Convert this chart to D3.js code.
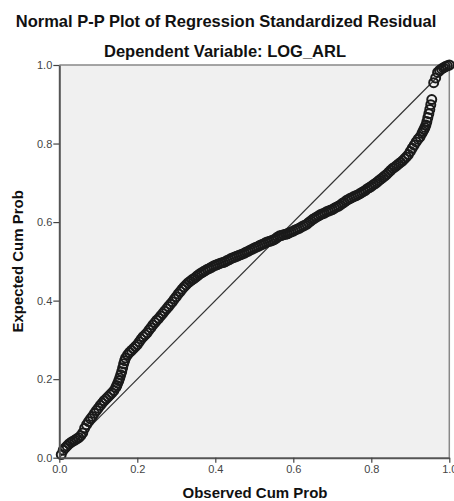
<!DOCTYPE html>
<html><head><meta charset="utf-8">
<script src="https://cdn.jsdelivr.net/npm/d3@7"></script>
<style>body{margin:0;background:#fff}svg{display:block}text{font-family:Arial,"Liberation Sans",sans-serif}</style>
</head><body><svg id="c" width="454" height="501"></svg>
<script>
const title = "Normal P-P Plot of Regression Standardized Residual";
const subtitle = "Dependent Variable: LOG_ARL";
const xLabel = "Observed Cum Prob";
const yLabel = "Expected Cum Prob";
const ticks = [0, 0.2, 0.4, 0.6, 0.8, 1.0];
const observed = [0.005,0.010,0.015,0.020,0.025,0.030,0.035,0.040,0.045,0.050,0.055,0.060,0.065,0.070,0.075,0.080,0.085,0.090,0.095,0.100,
0.105,0.110,0.115,0.120,0.125,0.130,0.135,0.140,0.145,0.1475,0.150,0.1525,0.155,0.1575,0.160,0.1625,0.165,0.1675,0.170,0.175,0.180,0.185,0.190,0.195,0.200,
0.205,0.210,0.215,0.220,0.225,0.230,0.235,0.240,0.245,0.250,0.255,0.260,0.265,0.270,0.275,0.280,0.285,0.290,0.295,0.300,
0.305,0.310,0.315,0.320,0.325,0.330,0.335,0.340,0.345,0.350,0.355,0.360,0.365,0.370,0.375,0.380,0.385,0.390,0.395,0.400,
0.405,0.410,0.415,0.420,0.425,0.430,0.435,0.440,0.445,0.450,0.455,0.460,0.465,0.470,0.475,0.480,0.485,0.490,0.495,0.500,
0.505,0.510,0.515,0.520,0.525,0.530,0.535,0.540,0.545,0.550,0.555,0.560,0.565,0.570,0.575,0.580,0.585,0.590,0.595,0.600,
0.605,0.610,0.615,0.620,0.625,0.630,0.635,0.640,0.645,0.650,0.655,0.660,0.665,0.670,0.675,0.680,0.685,0.690,0.695,0.700,
0.705,0.710,0.715,0.720,0.725,0.730,0.735,0.740,0.745,0.750,0.755,0.760,0.765,0.770,0.775,0.780,0.785,0.790,0.795,0.800,
0.805,0.810,0.815,0.820,0.825,0.830,0.835,0.840,0.845,0.850,0.855,0.860,0.865,0.870,0.875,0.880,0.885,0.890,0.895,0.900,
0.905,0.910,0.915,0.920,0.925,0.930,0.9325,0.935,0.9375,0.940,0.9425,0.945,0.9475,0.950,0.9525,0.955,0.960,0.965,0.970,0.975,0.980,0.985,0.990,0.995,1.000];
const expected = [0.008,0.019,0.025,0.030,0.035,0.039,0.042,0.045,0.048,0.051,0.056,0.063,0.075,0.084,0.092,0.099,0.105,0.113,0.120,0.126,
0.133,0.139,0.145,0.150,0.155,0.160,0.165,0.171,0.179,0.184,0.190,0.196,0.203,0.211,0.219,0.229,0.239,0.247,0.254,0.262,0.268,0.273,0.278,0.283,0.288,
0.295,0.302,0.308,0.313,0.318,0.325,0.331,0.338,0.344,0.350,0.355,0.361,0.367,0.373,0.379,0.385,0.391,0.397,0.404,0.410,
0.417,0.423,0.429,0.435,0.440,0.445,0.449,0.453,0.456,0.460,0.464,0.468,0.471,0.474,0.477,0.480,0.482,0.485,0.488,0.490,
0.492,0.494,0.496,0.497,0.499,0.502,0.504,0.507,0.509,0.511,0.513,0.515,0.517,0.519,0.521,0.524,0.526,0.529,0.531,0.534,
0.536,0.538,0.541,0.543,0.545,0.548,0.550,0.551,0.553,0.555,0.558,0.562,0.565,0.566,0.568,0.569,0.570,0.573,0.575,0.577,
0.580,0.582,0.584,0.587,0.590,0.592,0.595,0.599,0.603,0.607,0.610,0.613,0.616,0.619,0.621,0.623,0.626,0.628,0.630,0.632,
0.635,0.638,0.640,0.643,0.647,0.650,0.654,0.657,0.660,0.662,0.665,0.667,0.669,0.672,0.675,0.678,0.681,0.685,0.688,0.691,
0.695,0.698,0.702,0.706,0.710,0.714,0.718,0.722,0.727,0.732,0.737,0.740,0.744,0.748,0.752,0.756,0.761,0.766,0.772,0.780,
0.788,0.796,0.804,0.811,0.817,0.826,0.831,0.836,0.841,0.847,0.856,0.866,0.876,0.887,0.899,0.912,0.955,0.967,0.981,0.986,0.990,0.993,0.996,0.998,1.000];

const svg = d3.select("#c");
const m = {l:59.3, r:449.3, t:65, b:457.7};
const x = d3.scaleLinear().domain([0,1]).range([m.l, m.r]);
const y = d3.scaleLinear().domain([0,1]).range([m.b, m.t]);

svg.append("rect").attr("x",m.l).attr("y",m.t).attr("width",m.r-m.l).attr("height",m.b-m.t).attr("fill","#f0f0f0");
svg.append("path").attr("d",`M${m.l},${m.t}H${m.r}V${m.b}`).attr("fill","none").attr("stroke","#888").attr("stroke-width",1.5);

const plot = svg.append("g");
plot.append("line").attr("x1",x(0)).attr("y1",y(0)).attr("x2",x(1)).attr("y2",y(1)).attr("stroke","#333").attr("stroke-width",1.2);
plot.selectAll("circle").data(observed.map((v,i)=>[v,expected[i]])).join("circle")
  .attr("cx",d=>x(d[0])).attr("cy",d=>y(d[1])).attr("r",4.5)
  .attr("fill","none").attr("stroke","#1a1a1a").attr("stroke-width",2);

const xa = svg.append("g").attr("transform",`translate(0,${m.b})`)
  .call(d3.axisBottom(x).tickValues(ticks).tickFormat(d3.format(".1f")).tickSize(5).tickSizeOuter(0));
const ya = svg.append("g").attr("transform",`translate(${m.l},0)`)
  .call(d3.axisLeft(y).tickValues(ticks).tickFormat(d3.format(".1f")).tickSize(6).tickSizeOuter(0));
[xa,ya].forEach(a=>{
  a.select(".domain").attr("stroke","#555").attr("stroke-width",2);
  a.selectAll(".tick line").attr("stroke","#444").attr("stroke-width",1.2);
  a.selectAll(".tick text").attr("fill","#444").attr("font-size",11).attr("font-family","Arial, 'Liberation Sans', sans-serif");
});
xa.selectAll(".tick text").attr("dy","0.71em").attr("y",8);
ya.selectAll(".tick text").attr("x",-7);

svg.append("text").attr("x",226).attr("y",27).attr("text-anchor","middle").attr("font-size",16.5).attr("font-weight","bold").attr("fill","#111").text(title);
svg.append("text").attr("x",225).attr("y",57).attr("text-anchor","middle").attr("font-size",16.5).attr("font-weight","bold").attr("fill","#111").text(subtitle);
svg.append("text").attr("x",255).attr("y",498).attr("text-anchor","middle").attr("font-size",15).attr("font-weight","bold").attr("fill","#111").text(xLabel);
svg.append("text").attr("transform",`translate(23,${(m.t+m.b)/2}) rotate(-90)`).attr("text-anchor","middle").attr("font-size",15).attr("font-weight","bold").attr("fill","#111").text(yLabel);
</script></body></html>
